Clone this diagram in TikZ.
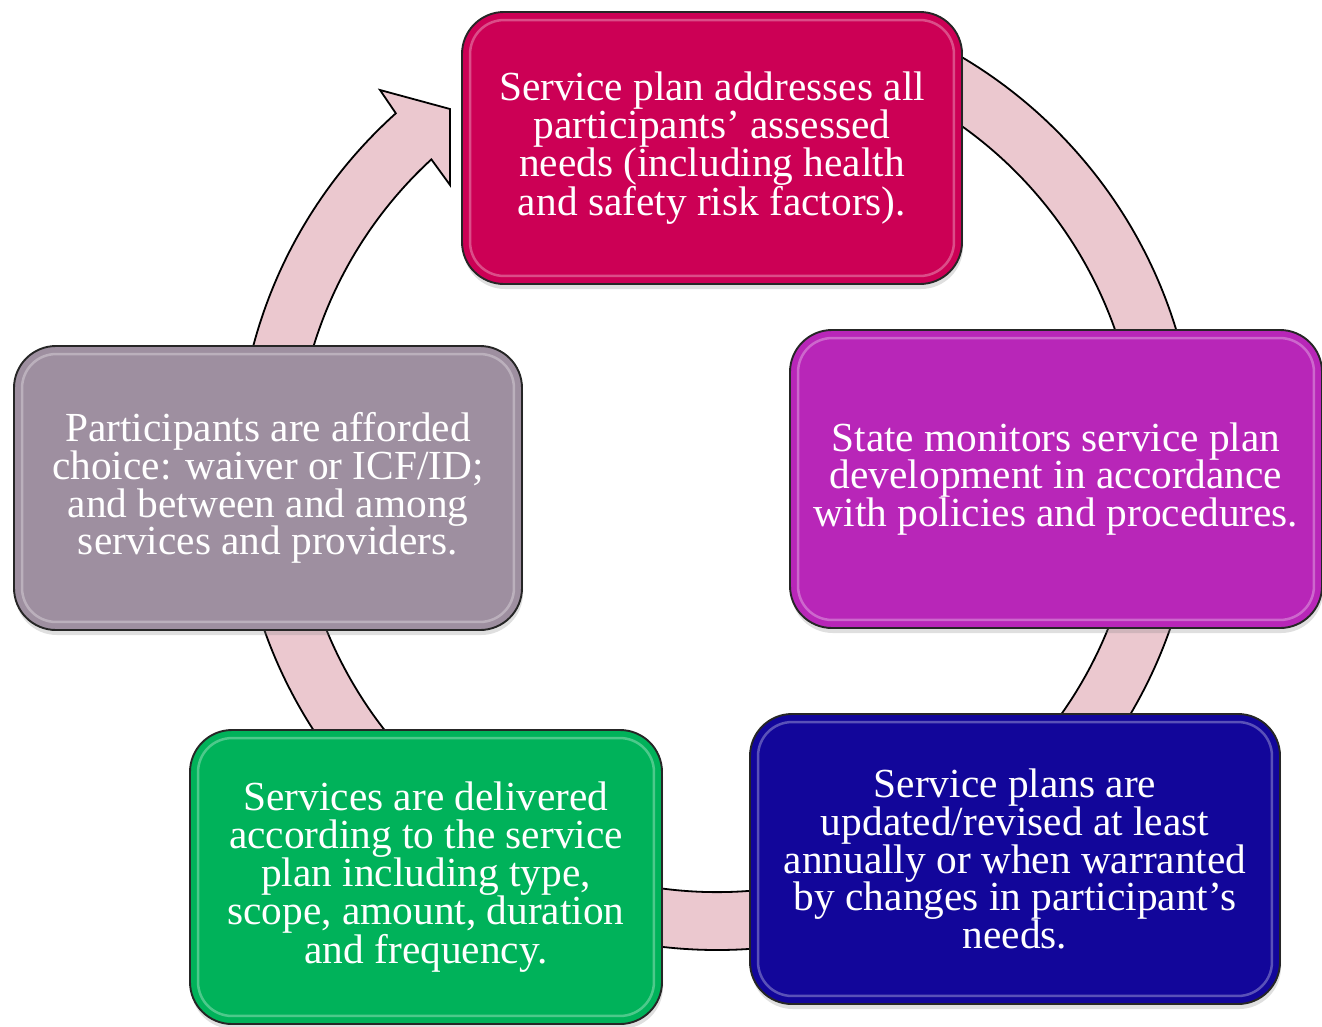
\documentclass[tikz,border=0pt]{standalone}
\usepackage{fontspec}
\setmainfont{Liberation Serif}
\usetikzlibrary{shadows}
\definecolor{cRed}{RGB}{204,0,85}
\definecolor{cPurple}{RGB}{184,38,184}
\definecolor{cNavy}{RGB}{18,6,154}
\definecolor{cGreen}{RGB}{0,178,90}
\definecolor{cGrey}{RGB}{158,143,160}
\definecolor{ringpink}{RGB}{235,200,207}
\begin{document}
\begin{tikzpicture}[x=1bp,y=1bp,
  box/.style={draw=black!85, line width=1.9bp, rounded corners=42bp, text=white,
    align=center, inner sep=0pt, font=\fontsize{41.5}{38}\selectfont,
    drop shadow={shadow xshift=1bp, shadow yshift=-5bp, opacity=0.25}},
  hl/.style={draw=white, line width=2.5bp, opacity=0.3, rounded corners=34bp},
  ring/.style={fill=ringpink, draw=black, line width=1.8bp, line join=miter}]
\useasboundingbox (0,0) rectangle (1322,-1026);
\fill[white] (0,0) rectangle (1322,-1026);

% cycle arrow
\begin{scope}[shift={(717,-470)}]
  \draw[ring] (132:480) arc[start angle=132, end angle=430, radius=480]
    -- (430:422) arc[start angle=430, end angle=132.6, radius=422]
    -- (-267,285) -- (-267,361) -- (-337,380) -- cycle;
\end{scope}

% boxes
\node[box, fill=cRed, minimum width=500bp, minimum height=272bp] (b1) at (712,-148)
  {Service plan addresses all\\participants’ assessed\\needs (including health\\and safety risk factors).};
\node[box, fill=cPurple, minimum width=532bp, minimum height=298bp] (b2) at (1056,-479)
  {State monitors service plan\\development in accordance\\with policies and procedures.};
\node[box, fill=cNavy, minimum width=530bp, minimum height=290bp] (b3) at (1015,-859)
  {Service plans are\\updated/revised at least\\annually or when warranted\\by changes in participant’s\\needs.};
\node[box, fill=cGreen, minimum width=472bp, minimum height=294bp] (b4) at (426,-877)
  {Services are delivered\\according to the service\\plan including type,\\scope, amount, duration\\and frequency.};
\node[box, fill=cGrey, minimum width=508bp, minimum height=284bp] (b5) at (268,-488)
  {Participants are afforded\\choice: waiver or ICF/ID;\\and between and among\\services and providers.};

% glossy highlights
\foreach \n in {b1,b2,b3,b4,b5}{
  \draw[hl] ([shift={(9,-9)}]\n.north west) rectangle ([shift={(-9,9)}]\n.south east);
}
\end{tikzpicture}
\end{document}
